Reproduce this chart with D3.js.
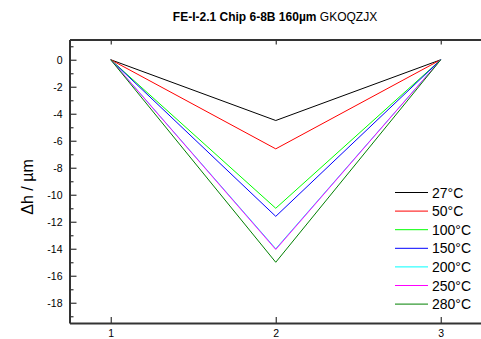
<!DOCTYPE html>
<html>
<head>
<meta charset="utf-8">
<script src="https://d3js.org/d3.v7.min.js"></script>
<style>
  body { margin: 0; background: #fff; }
  text { font-family: "Liberation Sans", Arial, sans-serif; }
</style>
</head>
<body>
<svg id="chart" width="481" height="339"></svg>
<script>
  // data: height change at positions 1, 2, 3
  const positions = [1, 2, 3]
  const temps = ["27°C", "50°C", "100°C", "150°C", "200°C", "250°C", "280°C"]
  const colors = ["#000000", "#ff0000", "#00ff00", "#0000ff", "#00ffff", "#ff00ff", "#008000"]
  const dh27 = [0, -4.5, 0]
  const dh50 = [0, -6.6, 0]
  const dh100 = [0, -11.0, 0]
  const dh150 = [0, -11.6, 0]
  const dh200 = [0, -14.0, 0]
  const dh250 = [0, -14.05, 0]
  const dh280 = [0, -15.0, 0]
  const series = [dh27, dh50, dh100, dh150, dh200, dh250, dh280]
  const yTicks = [0, -2, -4, -6, -8, -10, -12, -14, -16, -18]
  const yMinor = [1, -1, -3, -5, -7, -9, -11, -13, -15, -17, -19]

  const svg = d3.select("#chart")
  const plotLeft = 69.5, plotTop = 39.5, plotBottom = 323

  const x = d3.scaleLinear().domain([0.75, 3.25]).range([plotLeft, plotLeft + 2.5 * 165])
  const y = d3.scaleLinear().domain([-19.5, 1.5]).range([plotBottom, plotTop])

  // title
  const title = svg.append("text")
    .attr("x", 275).attr("y", 20.5)
    .attr("text-anchor", "middle")
    .style("font-size", "12px")
  title.append("tspan").style("font-weight", "bold").text("FE-I-2.1 Chip 6-8B 160µm")
  title.append("tspan").text(" GKOQZJX")

  // lines
  const line = d3.line().x((d, i) => x(positions[i])).y(d => y(d))
  series.forEach((s, i) => {
    svg.append("path")
      .datum(s)
      .attr("d", line)
      .attr("fill", "none")
      .attr("stroke", colors[i])
      .attr("stroke-width", 1)
  })

  // axes
  const axisColor = "#333"
  svg.append("g")
    .attr("transform", `translate(0,${plotBottom})`)
    .call(d3.axisBottom(x).tickValues(positions).tickSizeInner(-6).tickSizeOuter(0).tickPadding(6.5).tickFormat(d3.format("d")))
  svg.append("g")
    .attr("transform", `translate(0,${plotTop})`)
    .call(d3.axisTop(x).tickValues(positions).tickSizeInner(-5).tickSizeOuter(0).tickFormat(""))
  const leftAxis = svg.append("g")
    .attr("transform", `translate(${plotLeft},0)`)
    .call(d3.axisLeft(y).tickValues(yTicks).tickSizeInner(-7).tickSizeOuter(0).tickPadding(7).tickFormat(d3.format("d")))
  svg.append("g")
    .attr("transform", `translate(${plotLeft},0)`)
    .call(d3.axisLeft(y).tickValues(yMinor).tickSizeInner(-4).tickSizeOuter(0).tickFormat(""))
    .select(".domain").remove()

  svg.selectAll(".domain").attr("stroke", axisColor).attr("stroke-width", 2)
  svg.selectAll(".tick line").attr("stroke", axisColor).attr("stroke-width", 1.2)
  svg.selectAll(".tick text")
    .style("font-family", "'Liberation Sans', Arial, sans-serif")
    .style("font-size", "10.5px")
    .attr("fill", "#000")
  leftAxis.selectAll(".tick text").text(d => d < 0 ? "-" + Math.abs(d) : d)

  // y title
  svg.append("text")
    .attr("transform", "translate(33,187) rotate(-90)")
    .attr("text-anchor", "middle")
    .style("font-size", "16px")
    .text("Δh / µm")

  // legend
  const legend = svg.append("g")
  temps.forEach((t, i) => {
    const ly = 192.5 + i * 18.6
    legend.append("line")
      .attr("x1", 395).attr("x2", 428)
      .attr("y1", ly).attr("y2", ly)
      .attr("stroke", colors[i]).attr("stroke-width", 1)
    legend.append("text")
      .attr("x", 432).attr("y", ly)
      .attr("dy", "0.36em")
      .style("font-size", "14px")
      .text(t)
  })
</script>
</body>
</html>
